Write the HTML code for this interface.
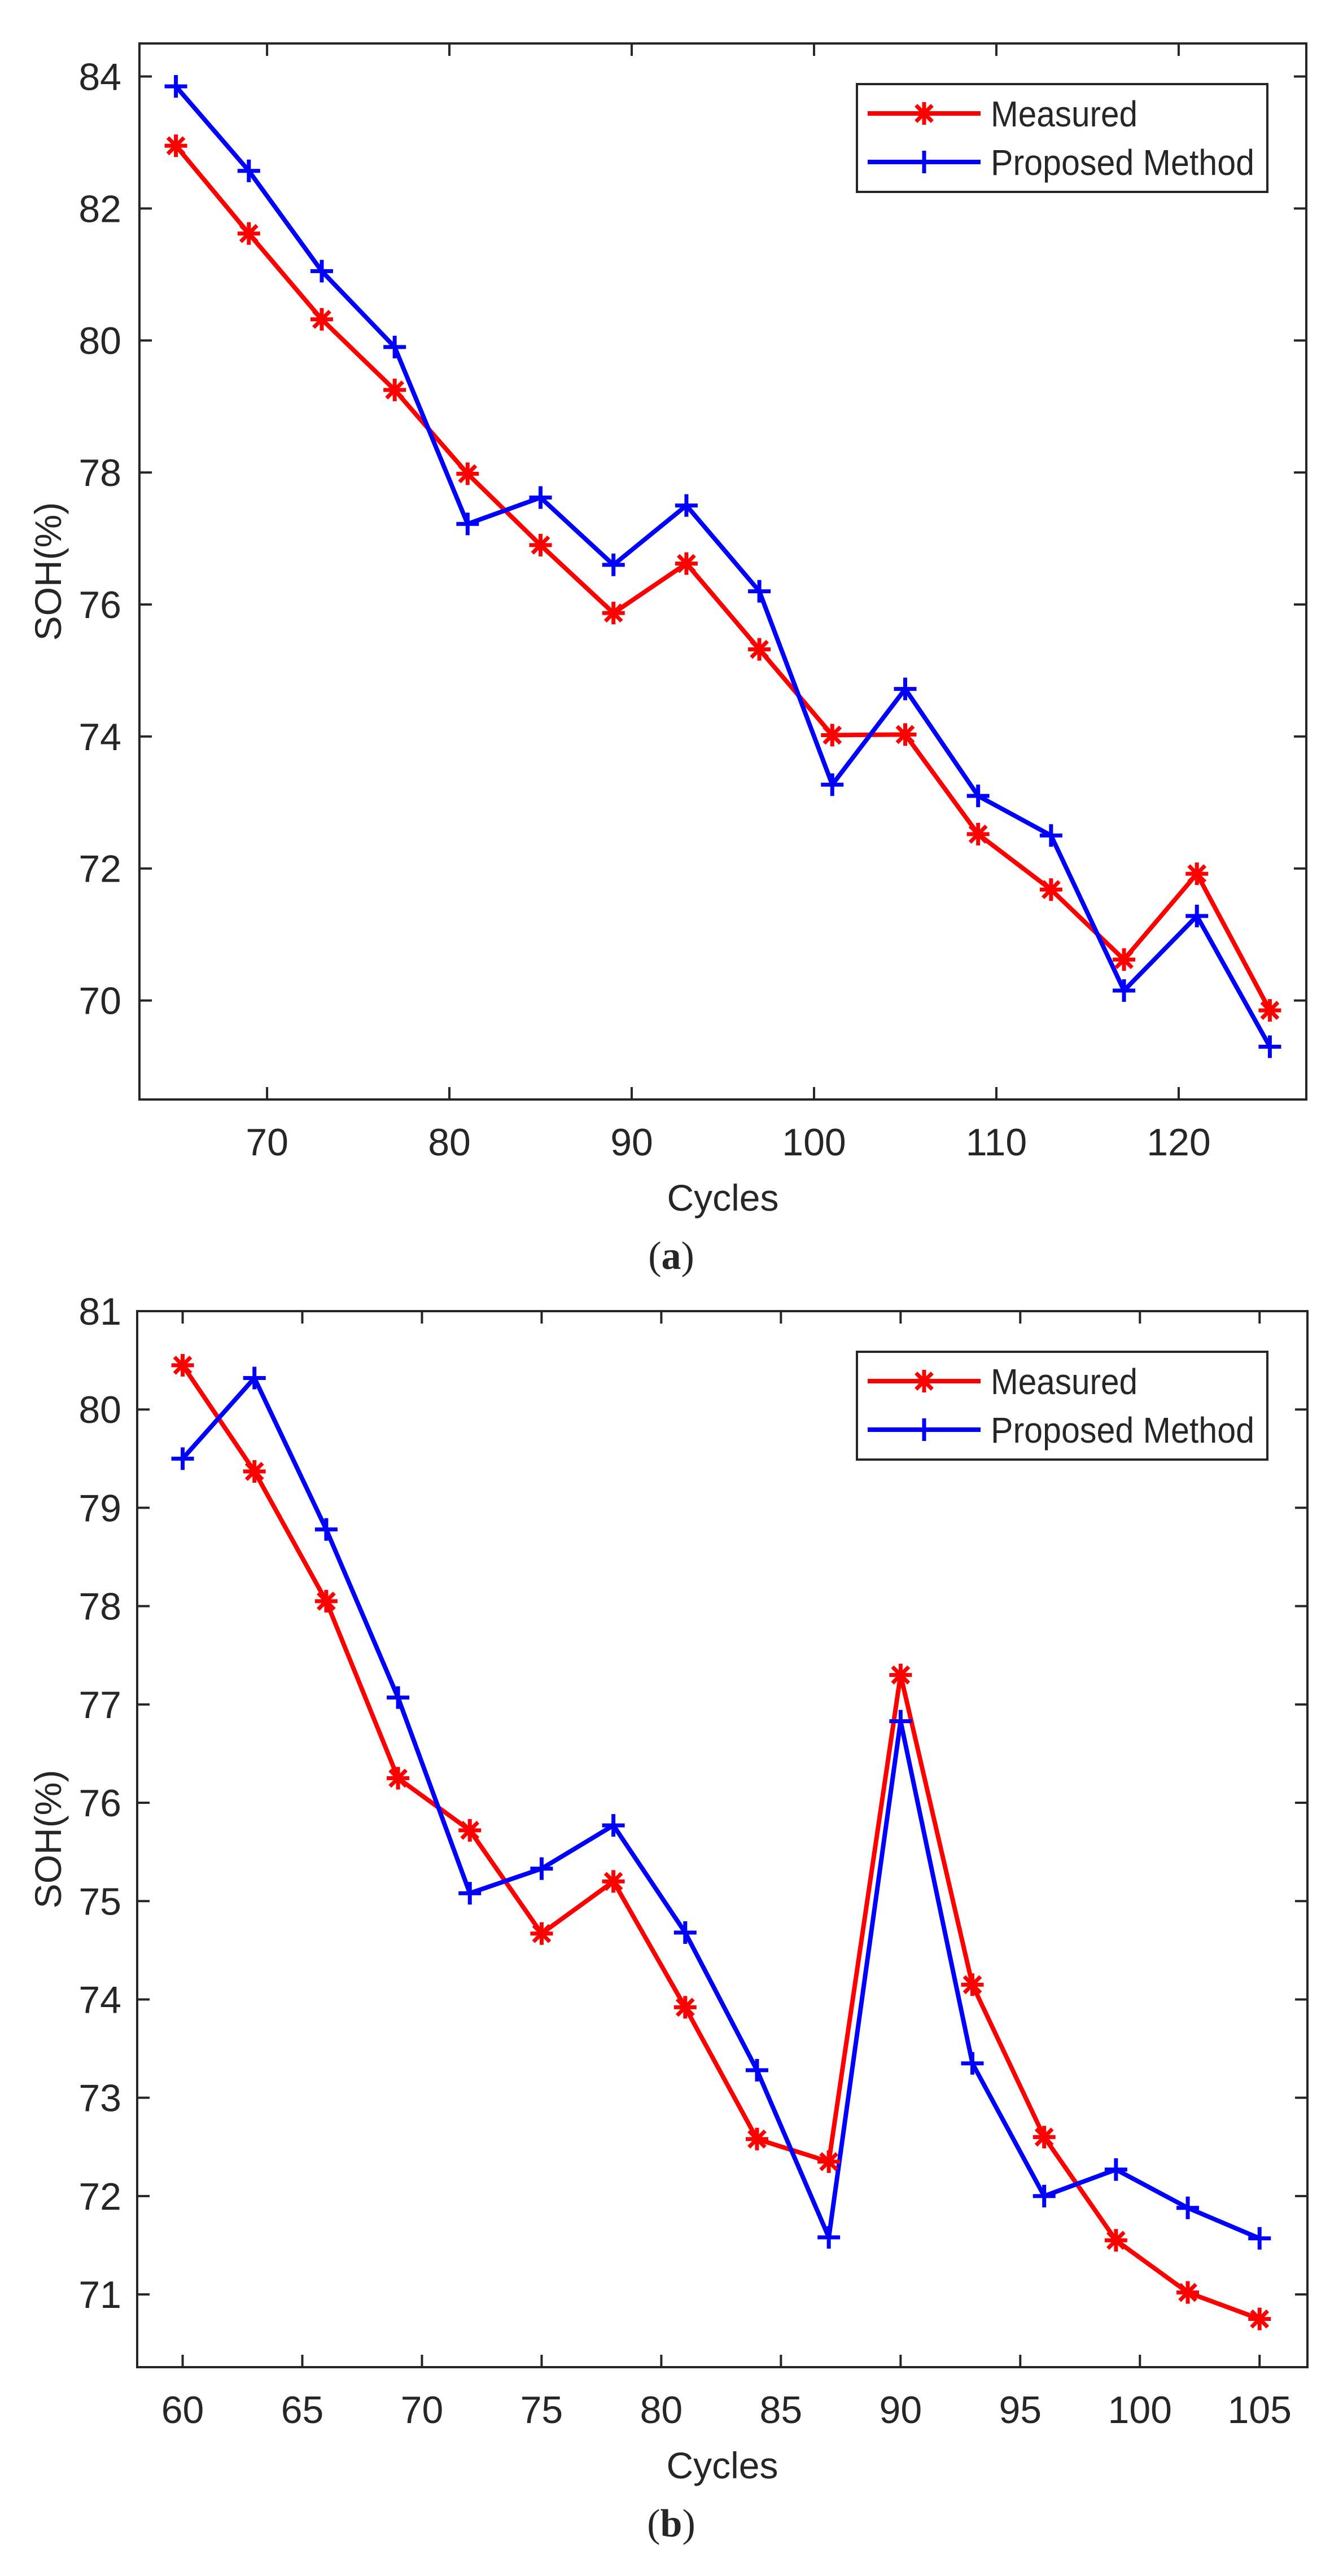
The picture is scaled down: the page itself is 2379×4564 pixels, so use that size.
<!DOCTYPE html>
<html><head><meta charset="utf-8">
<style>
html,body{margin:0;padding:0;background:#fff;}
svg{display:block;}
text{font-family:"Liberation Sans",Arial,sans-serif;fill:#262626;}
</style></head>
<body>
<svg id="fig" width="2379" height="4564" viewBox="0 0 2379 4564" xmlns="http://www.w3.org/2000/svg"></svg>
<script>
// Panel (a) data
const cyclesA = [65,69,73,77,81,85,89,93,97,101,105,109,113,117,121,125];
const measuredA = [82.95,81.62,80.32,79.25,77.98,76.9,75.87,76.62,75.32,74.02,74.03,72.52,71.68,70.62,71.92,69.85];
const proposedA = [83.85,82.57,81.05,79.9,77.22,77.62,76.6,77.5,76.2,73.27,74.72,73.1,72.5,70.15,71.28,69.3];
const xTicksA = [70,80,90,100,110,120];
const yTicksA = [70,72,74,76,78,80,82,84];
// Panel (b) data
const cyclesB = [60,63,66,69,72,75,78,81,84,87,90,93,96,99,102,105];
const measuredB = [80.45,79.37,78.05,76.25,75.72,74.67,75.2,73.92,72.58,72.35,77.3,74.15,72.6,71.55,71.02,70.75];
const proposedB = [79.5,80.32,78.78,77.07,75.08,75.33,75.77,74.68,73.28,71.58,76.83,73.35,72.0,72.27,71.88,71.57];
const xTicksB = [60,65,70,75,80,85,90,95,100,105];
const yTicksB = [71,72,73,74,75,76,77,78,79,80,81];
const seriesNames = ["Measured","Proposed Method"];

const NS="http://www.w3.org/2000/svg";
const svg=document.getElementById('fig');
function mk(tag,attrs,parent){const e=document.createElementNS(NS,tag);for(const k in attrs)e.setAttribute(k,attrs[k]);(parent||svg).appendChild(e);return e;}

function asterisk(g,cx,cy,r,color){
  const p=mk('path',{d:`M${cx-r},${cy}H${cx+r}M${cx},${cy-r}V${cy+r}M${cx-r*0.72},${cy-r*0.72}L${cx+r*0.72},${cy+r*0.72}M${cx-r*0.72},${cy+r*0.72}L${cx+r*0.72},${cy-r*0.72}`,stroke:color,'stroke-width':7,fill:'none'},g);
  
  
}
function plus(g,cx,cy,r,color){
  const p=mk('path',{d:`M${cx-r},${cy}H${cx+r}M${cx},${cy-r}V${cy+r}`,stroke:color,'stroke-width':7,fill:'none'},g);
  
  
}

function panel(cfg){
  const {id,L,R,T,B,xmin,xmax,ymin,ymax,xs,m,p,xt,yt,cap}=cfg;
  const sx=v=>L+(v-xmin)/(xmax-xmin)*(R-L);
  const sy=v=>B-(v-ymin)/(ymax-ymin)*(B-T);
  const g=mk('g',{});
  
  
  xt.forEach(v=>{
    const x=sx(v);
    mk('line',{x1:x,y1:B,x2:x,y2:B-22,stroke:'#262626','stroke-width':4},g);
    mk('line',{x1:x,y1:T,x2:x,y2:T+22,stroke:'#262626','stroke-width':4},g);
    const t=mk('text',{x:x,y:B+99,'font-size':68,'text-anchor':'middle'},g);
    t.textContent=v;
    
    
  });
  yt.forEach(v=>{
    const y=sy(v);
    mk('line',{x1:L,y1:y,x2:L+22,y2:y,stroke:'#262626','stroke-width':4},g);
    mk('line',{x1:R,y1:y,x2:R-22,y2:y,stroke:'#262626','stroke-width':4},g);
    const t=mk('text',{x:215,y:y+24,'font-size':68,'text-anchor':'end'},g);
    t.textContent=v;
    
    
  });
  const box=mk('rect',{x:L,y:T,width:R-L,height:B-T,fill:'none',stroke:'#262626','stroke-width':4},g);
  
  
  const lm=mk('polyline',{points:xs.map((x,i)=>sx(x)+','+sy(m[i])).join(' '),fill:'none',stroke:'#ff0000','stroke-width':8,'stroke-linejoin':'round'},g);
  
  
  const lp=mk('polyline',{points:xs.map((x,i)=>sx(x)+','+sy(p[i])).join(' '),fill:'none',stroke:'#0000ff','stroke-width':8,'stroke-linejoin':'round'},g);
  
  
  xs.forEach((x,i)=>asterisk(g,sx(x),sy(m[i]),20,'#ff0000'));
  xs.forEach((x,i)=>plus(g,sx(x),sy(p[i]),20,'#0000ff'));
  const xl=mk('text',{x:(L+R)/2,y:B+197,'font-size':66,'text-anchor':'middle'},g);
  xl.textContent='Cycles';
  
  
  const yc=(T+B)/2;
  const yl=mk('text',{x:0,y:0,'font-size':66,'text-anchor':'middle',transform:`translate(108,${yc}) rotate(-90)`},g);
  yl.textContent='SOH(%)';
  
  
  const lg=mk('g',{},g);
  
  
  const lt=T+72;
  mk('rect',{x:1518,y:lt,width:727,height:191,fill:'#fff',stroke:'#262626','stroke-width':4},lg);
  const r1=lt+52,r2=lt+138;
  mk('line',{x1:1537,y1:r1,x2:1737,y2:r1,stroke:'#ff0000','stroke-width':8},lg);
  asterisk(lg,1637,r1,20,'#ff0000');
  mk('line',{x1:1537,y1:r2,x2:1737,y2:r2,stroke:'#0000ff','stroke-width':8},lg);
  plus(lg,1637,r2,20,'#0000ff');
  const t1=mk('text',{x:1755,y:r1+23,'font-size':64,fill:'#000',textLength:260,lengthAdjust:'spacingAndGlyphs'},lg);
  t1.textContent=seriesNames[0];
  
  
  const t2=mk('text',{x:1755,y:r2+23,'font-size':64,fill:'#000',textLength:467,lengthAdjust:'spacingAndGlyphs'},lg);
  t2.textContent=seriesNames[1];
  
  
  const c=mk('text',{x:1189,y:B+300,'font-size':70,'text-anchor':'middle',style:'font-family:"Liberation Serif",serif',fill:'#000'},svg);
  c.innerHTML='(<tspan font-weight="bold">'+cap+'</tspan>)';
  
  
}

panel({id:'a',L:247,R:2314,T:77,B:1948,xmin:63,xmax:127,ymin:68.5,ymax:84.5,xs:cyclesA,m:measuredA,p:proposedA,xt:xTicksA,yt:yTicksA,cap:'a'});
panel({id:'b',L:243,R:2316,T:2323,B:4194,xmin:58.1,xmax:107,ymin:70.26,ymax:81,xs:cyclesB,m:measuredB,p:proposedB,xt:xTicksB,yt:yTicksB,cap:'b'});
</script>
</body></html>
